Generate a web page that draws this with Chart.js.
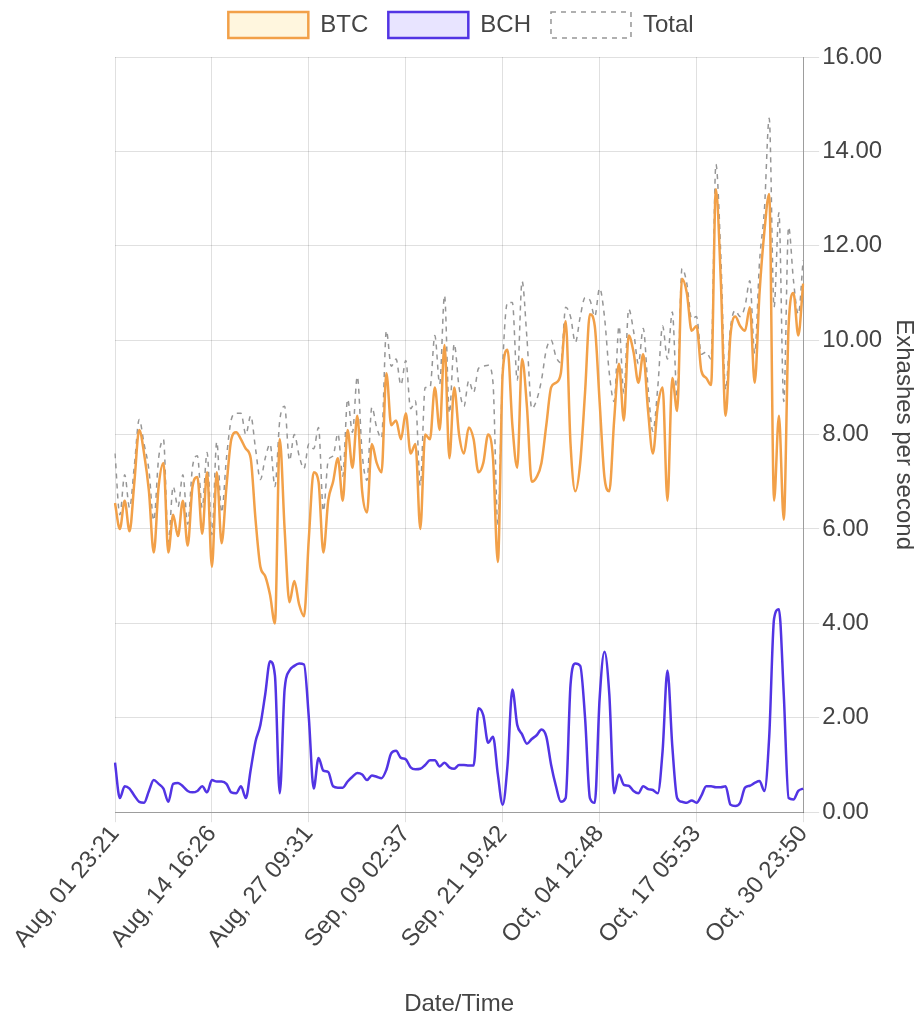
<!DOCTYPE html>
<html>
<head>
<meta charset="utf-8">
<title>BTC / BCH hashrate</title>
<script src="https://cdn.jsdelivr.net/npm/chart.js@4/dist/chart.umd.min.js"></script>
<style>
  body { margin: 0; background: #fff; }
</style>
</head>
<body>
<canvas id="myChart" width="922" height="1020"></canvas>
<script>
'use strict';
// tick labels shown on the time axis and the point index each one sits on
let tickLabels = ['Aug, 01 23:21', 'Aug, 14 16:26', 'Aug, 27 09:31', 'Sep, 09 02:37',
    'Sep, 21 19:42', 'Oct, 04 12:48', 'Oct, 17 05:53', 'Oct, 30 23:50'];
let tickIndex = [0, 20, 40, 60, 80, 100, 120, 142];

// Exahashes per second
let btc = [
    6.55, 6.0, 6.6, 5.95, 7.0, 8.1, 7.6, 6.8, 5.5, 6.9,
    7.4, 5.5, 6.3, 5.85, 6.6, 5.65, 6.9, 7.1, 5.9, 7.2,
    5.2, 7.2, 5.7, 6.9, 7.9, 8.05, 7.9, 7.7, 7.5, 6.2,
    5.2, 5.0, 4.6, 4.0, 7.9, 6.0, 4.45, 4.9, 4.4, 4.15,
    5.8, 7.2, 7.0, 5.5, 6.6, 7.0, 7.5, 6.6, 8.1, 7.3,
    8.4, 6.8, 6.35, 7.8, 7.4, 7.2, 9.3, 8.2, 8.3, 7.9,
    8.45, 7.6, 7.8, 6.0, 8.0, 7.9, 9.0, 8.1, 9.9, 7.5,
    9.0, 8.0, 7.6, 8.15, 7.9, 7.2, 7.4, 8.0, 7.5, 5.3,
    9.3, 9.8, 8.2, 7.3, 9.6, 8.6, 7.0, 7.1, 7.4, 8.2,
    9.0, 9.1, 9.3, 10.4, 7.8, 6.8, 7.4, 8.9, 10.55, 10.3,
    8.7, 7.1, 6.8, 8.3, 9.5, 8.3, 10.1, 9.75, 9.1, 9.7,
    8.5, 7.6, 8.6, 9.0, 6.6, 9.2, 8.5, 11.3, 11.0, 10.2,
    10.3, 9.35, 9.2, 9.05, 13.2, 11.3, 8.4, 10.1, 10.5, 10.3,
    10.2, 10.7, 9.1, 11.0, 12.3, 13.1, 6.6, 8.4, 6.2, 10.3,
    11.0, 10.1, 11.2
];
let bch = [
    1.05, 0.3, 0.55, 0.5, 0.35, 0.22, 0.2, 0.45, 0.68, 0.6,
    0.5, 0.22, 0.6, 0.62, 0.55, 0.45, 0.42, 0.45, 0.55, 0.42,
    0.68, 0.65, 0.65, 0.6, 0.42, 0.4, 0.55, 0.3, 0.9, 1.5,
    1.85, 2.5, 3.2, 2.9, 0.4, 2.6, 3.0, 3.1, 3.15, 3.13,
    2.0, 0.5, 1.15, 0.88, 0.85, 0.55, 0.52, 0.52, 0.65, 0.75,
    0.83, 0.8, 0.68, 0.78, 0.75, 0.72, 0.9, 1.25, 1.3, 1.15,
    1.12, 0.95, 0.91, 0.92, 1.0, 1.1, 1.1, 0.97, 1.05, 0.95,
    0.92, 1.0, 1.0, 0.99, 0.99, 2.2, 2.05, 1.47, 1.6, 0.8,
    0.16, 1.0, 2.6, 1.85, 1.65, 1.45, 1.55, 1.63, 1.75, 1.6,
    1.0, 0.55, 0.22, 0.3, 2.7, 3.15, 3.1, 2.0, 0.3, 0.2,
    2.4, 3.4, 2.5, 0.4, 0.8, 0.58, 0.56, 0.45, 0.4, 0.55,
    0.49, 0.47, 0.4, 1.3, 3.0, 1.4, 0.3, 0.22, 0.2, 0.25,
    0.2, 0.35, 0.55, 0.55, 0.53, 0.53, 0.55, 0.16, 0.13, 0.2,
    0.52, 0.56, 0.62, 0.66, 0.45, 1.6, 4.1, 4.3, 2.5, 0.3,
    0.27, 0.45, 0.5
];
let total = [
    7.6, 6.3, 7.15, 6.45, 7.35, 8.32, 7.8, 7.25, 6.18, 7.5,
    7.9, 5.72, 6.9, 6.47, 7.15, 6.1, 7.32, 7.55, 6.45, 7.62,
    5.88, 7.85, 6.35, 7.5, 8.32, 8.45, 8.45, 8.0, 8.4, 7.7,
    7.05, 7.5, 7.8, 6.9, 8.3, 8.6, 7.45, 8.0, 7.55, 7.28,
    7.8, 7.7, 8.15, 6.38, 7.45, 7.55, 8.02, 7.12, 8.75, 8.05,
    9.23, 7.6, 7.03, 8.58, 8.15, 7.92, 10.2, 9.45, 9.6, 9.05,
    9.57, 8.55, 8.71, 6.92, 9.0, 9.0, 10.1, 9.07, 10.95, 8.45,
    9.92, 9.0, 8.6, 9.14, 8.89, 9.4, 9.45, 9.47, 9.1, 6.1,
    9.46, 10.8, 10.8, 9.15, 11.25, 10.05, 8.55, 8.73, 9.15, 9.8,
    10.0, 9.65, 9.52, 10.7, 10.5, 9.95, 10.5, 10.9, 10.85, 10.5,
    11.1, 10.5, 9.3, 8.7, 10.3, 8.88, 10.66, 10.2, 9.5, 10.25,
    8.99, 8.07, 9.0, 10.3, 9.6, 10.6, 8.8, 11.52, 11.2, 10.45,
    10.5, 9.7, 9.75, 9.6, 13.73, 11.83, 8.95, 10.26, 10.63, 10.5,
    10.72, 11.26, 9.72, 11.66, 12.75, 14.7, 10.7, 12.7, 8.7, 12.4,
    11.27, 10.55, 11.7
];

// category labels: a tick label where one belongs, blank elsewhere
let labels = [];
for (let i = 0; i < btc.length; i++) {
    let k = tickIndex.indexOf(i);
    labels.push(k >= 0 ? tickLabels[k] : '');
}

Chart.defaults.font.family = "'Liberation Sans', Arial, sans-serif";
Chart.defaults.font.size = 24;
Chart.defaults.color = '#444';

// a bit more room under the legend
let legendSpacer = {
    id: 'legendSpacer',
    beforeInit(chart) {
        let fitLegend = chart.legend.fit;
        chart.legend.fit = function () {
            fitLegend.bind(chart.legend)();
            this.height += 9;
        };
    }
};

let ctx = document.getElementById('myChart').getContext('2d');
let chart = new Chart(ctx, {
    type: 'line',
    data: {
        labels: labels,
        datasets: [
            {
                label: 'BTC',
                data: btc,
                borderColor: 'rgb(242, 160, 72)',
                backgroundColor: 'rgb(255, 246, 222)',
                borderWidth: 2.5,
                pointRadius: 0,
                cubicInterpolationMode: 'monotone',
                fill: false
            },
            {
                label: 'BCH',
                data: bch,
                borderColor: 'rgb(82, 52, 228)',
                backgroundColor: 'rgb(232, 228, 255)',
                borderWidth: 2.5,
                pointRadius: 0,
                cubicInterpolationMode: 'monotone',
                fill: false
            },
            {
                label: 'Total',
                data: total,
                borderColor: 'rgb(150, 150, 150)',
                backgroundColor: 'rgba(255, 255, 255, 0)',
                borderDash: [5, 5],
                borderWidth: 1.5,
                pointRadius: 0,
                cubicInterpolationMode: 'monotone',
                fill: false
            }
        ]
    },
    plugins: [legendSpacer],
    options: {
        responsive: false,
        animation: false,
        devicePixelRatio: 1,
        layout: { padding: { left: 0, right: 0, top: -8 } },
        plugins: {
            legend: {
                labels: { boxWidth: 80, boxHeight: 26, padding: 20 }
            },
            tooltip: { enabled: false }
        },
        scales: {
            x: {
                grid: { color: 'rgba(0, 0, 0, 0.12)', tickLength: 10 },
                border: { color: 'rgba(0, 0, 0, 0.3)' },
                ticks: {
                    autoSkip: false,
                    minRotation: 50,
                    maxRotation: 50,
                    padding: -2,
                    callback: function (value, index) {
                        return labels[index] || null;
                    }
                },
                afterFit: function (scale) {
                    scale.paddingLeft = 115;
                },
                title: { display: true, text: 'Date/Time', padding: { top: 39, bottom: 1 } }
            },
            y: {
                position: 'right',
                min: 0,
                max: 16,
                grid: { color: 'rgba(0, 0, 0, 0.12)', tickLength: 16 },
                border: { color: 'rgba(0, 0, 0, 0.3)' },
                ticks: {
                    stepSize: 2,
                    padding: 3,
                    callback: function (value) {
                        return value.toFixed(2);
                    }
                },
                title: { display: true, text: 'Exhashes per second' }
            }
        }
    }
});
</script>
</body>
</html>
